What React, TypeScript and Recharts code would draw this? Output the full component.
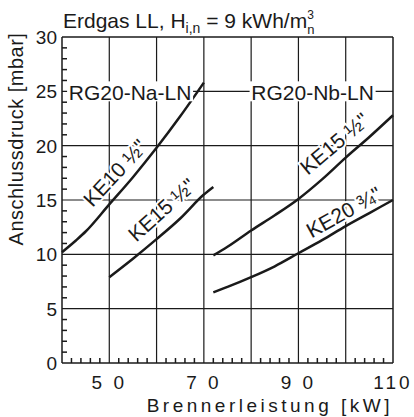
import {
  ComposedChart,
  Line,
  Scatter,
  XAxis,
  YAxis,
  ReferenceLine,
  ReferenceDot,
} from "recharts";

// Brennerleistung [kW] -> Anschlussdruck [mbar]
const ke10Na = [
  { kw: 40, p: 10.2 },
  { kw: 43, p: 11.3 },
  { kw: 45, p: 12.1 },
  { kw: 50, p: 14.6 },
  { kw: 55, p: 17.1 },
  { kw: 60, p: 19.8 },
  { kw: 65, p: 22.7 },
  { kw: 70, p: 25.8 },
];
const ke15Na = [
  { kw: 50, p: 7.9 },
  { kw: 55, p: 9.6 },
  { kw: 60, p: 11.4 },
  { kw: 65, p: 13.3 },
  { kw: 70, p: 15.5 },
  { kw: 72, p: 16.2 },
];
const ke15Nb = [
  { kw: 72, p: 9.9 },
  { kw: 75, p: 10.7 },
  { kw: 80, p: 12.2 },
  { kw: 85, p: 13.6 },
  { kw: 90, p: 15.1 },
  { kw: 95, p: 16.9 },
  { kw: 100, p: 18.9 },
  { kw: 105, p: 20.8 },
  { kw: 110, p: 22.8 },
];
const ke20Nb = [
  { kw: 72, p: 6.5 },
  { kw: 75, p: 7.0 },
  { kw: 80, p: 7.9 },
  { kw: 85, p: 8.9 },
  { kw: 90, p: 10.1 },
  { kw: 95, p: 11.3 },
  { kw: 100, p: 12.6 },
  { kw: 105, p: 13.8 },
  { kw: 110, p: 15.0 },
];

const xGrid = [40, 50, 60, 70, 80, 90, 100, 110];
const yGrid = [0, 5, 10, 15, 20, 25, 30];
const xLabels = [50, 70, 90, 110];
// small inward ticks every 2 kW / every 1 mbar
const xMinor = Array.from({ length: 36 }, (_, i) => 40 + i * 2)
  .filter((v) => v % 10 !== 0)
  .map((v) => ({ kw: v, p: 0 }));
const yMinor = Array.from({ length: 31 }, (_, i) => i)
  .filter((v) => v % 5 !== 0)
  .map((v) => ({ kw: 40, p: v }));

const FONT = "'Liberation Sans', Arial, Helvetica, sans-serif";
const INK = "#1a1a1a";

const spaced = (v: number) => (v < 100 ? String(v).split("").join(" ") : String(v));

const XTick = (props: any) => {
  const { x, y, payload } = props;
  const v = Number(payload.value);
  if (!xLabels.includes(v)) return <g />;
  return (
    <text x={x} y={y + 26} textAnchor="middle" fontSize={19} fill={INK} letterSpacing={3} fontFamily={FONT}>
      {spaced(v)}
    </text>
  );
};

const YTick = (props: any) => {
  const { x, y, payload } = props;
  return (
    <text x={x - 5} y={y + 7} textAnchor="end" fontSize={19} fill={INK} fontFamily={FONT}>
      {payload.value}
    </text>
  );
};

const upTick = (props: any) => (
  <line x1={props.cx} x2={props.cx} y1={props.cy} y2={props.cy - 5} stroke={INK} strokeWidth={1.5} />
);
const rightTick = (props: any) => (
  <line x1={props.cx} x2={props.cx + 5} y1={props.cy} y2={props.cy} stroke={INK} strokeWidth={1.5} />
);

const curveTag = (text: string, angle: number) => (props: any) => {
  const vb = props.viewBox || {};
  const cx = vb.x + (vb.width || 0) / 2;
  const cy = vb.y + (vb.height || 0) / 2;
  return (
    <text
      x={cx}
      y={cy}
      textAnchor="middle"
      dominantBaseline="central"
      fontSize={21}
      fontFamily={FONT}
      fill={INK}
      stroke="#fff"
      strokeWidth={4}
      paintOrder="stroke"
      transform={`rotate(${angle} ${cx} ${cy})`}
    >
      {text}
    </text>
  );
};

const boxTag = (text: string, w: number) => (props: any) => {
  const vb = props.viewBox || {};
  const cx = vb.x + (vb.width || 0) / 2;
  const cy = vb.y + (vb.height || 0) / 2;
  return (
    <g>
      <rect x={cx - w / 2} y={cy - 10} width={w} height={20} fill="#fff" />
      <text x={cx} y={cy + 1} textAnchor="middle" dominantBaseline="central" fontSize={21} fontFamily={FONT} fill={INK}>
        {text}
      </text>
    </g>
  );
};

export default function App() {
  return (
    <div style={{ position: "absolute", left: 0, top: 0, width: 414, height: 417, background: "#fff" }}>
      <ComposedChart width={414} height={417} margin={{ top: 37, right: 21, bottom: 0, left: 0 }}>
        <XAxis
          dataKey="kw"
          type="number"
          domain={[40, 110]}
          ticks={xGrid}
          interval={0}
          height={54}
          tickLine={false}
          tickSize={0}
          tickMargin={0}
          stroke={INK}
          strokeWidth={1.5}
          tick={<XTick />}
        />
        <YAxis
          dataKey="p"
          type="number"
          domain={[0, 30]}
          ticks={yGrid}
          interval={0}
          width={62}
          tickLine={false}
          tickSize={0}
          tickMargin={0}
          stroke={INK}
          strokeWidth={1.5}
          tick={<YTick />}
        />
        {xGrid.slice(1).map((v) => (
          <ReferenceLine key={"x" + v} x={v} stroke={INK} strokeWidth={v === 110 ? 1.5 : 1.2} />
        ))}
        {yGrid.slice(1).map((v) => (
          <ReferenceLine key={"y" + v} y={v} stroke={INK} strokeWidth={v === 30 ? 1.5 : 1.2} />
        ))}
        <Scatter data={xMinor} dataKey="p" shape={upTick} isAnimationActive={false} />
        <Scatter data={yMinor} dataKey="p" shape={rightTick} isAnimationActive={false} />
        <ReferenceDot x={54.4} y={25} r={0} fill="none" stroke="none" label={boxTag("RG20-Na-LN", 126)} />
        <ReferenceDot x={93} y={25} r={0} fill="none" stroke="none" label={boxTag("RG20-Nb-LN", 126)} />
        <Line data={ke10Na} dataKey="p" type="monotone" dot={false} stroke={INK} strokeWidth={2.5} isAnimationActive={false} />
        <Line data={ke15Na} dataKey="p" type="monotone" dot={false} stroke={INK} strokeWidth={2.5} isAnimationActive={false} />
        <Line data={ke15Nb} dataKey="p" type="monotone" dot={false} stroke={INK} strokeWidth={2.5} isAnimationActive={false} />
        <Line data={ke20Nb} dataKey="p" type="monotone" dot={false} stroke={INK} strokeWidth={2.5} isAnimationActive={false} />
        <ReferenceDot x={51.2} y={17.5} r={0} fill="none" stroke="none" label={curveTag("KE10 ½\"", -47)} />
        <ReferenceDot x={61.1} y={14.1} r={0} fill="none" stroke="none" label={curveTag("KE15 ½\"", -42)} />
        <ReferenceDot x={97.6} y={20.2} r={0} fill="none" stroke="none" label={curveTag("KE15 ½\"", -40)} />
        <ReferenceDot x={99.6} y={13.9} r={0} fill="none" stroke="none" label={curveTag("KE20 ¾\"", -29)} />
      </ComposedChart>
      <svg width={414} height={417} style={{ position: "absolute", left: 0, top: 0, pointerEvents: "none" }}>
        <text x={63} y={28} fontSize={21} fontFamily={FONT} fill={INK}>
          <tspan>Erdgas LL, H</tspan>
          <tspan fontSize={14} dy={5}>i,n</tspan>
          <tspan dy={-5}> = 9 kWh/m</tspan>
          <tspan fontSize={12} dy={-9}>3</tspan>
          <tspan fontSize={13} dx={-6.7} dy={15}>n</tspan>
        </text>
        <text
          x={23}
          y={139}
          fontSize={20}
          fontFamily={FONT}
          fill={INK}
          textAnchor="middle"
          letterSpacing={0.5}
          transform="rotate(-90 23 139)"
        >
          Anschlussdruck [mbar]
        </text>
        <text x={393} y={412} fontSize={19} fontFamily={FONT} fill={INK} textAnchor="end" letterSpacing={3.5}>
          {"Brennerleistung  [kW]"}
        </text>
      </svg>
    </div>
  );
}
